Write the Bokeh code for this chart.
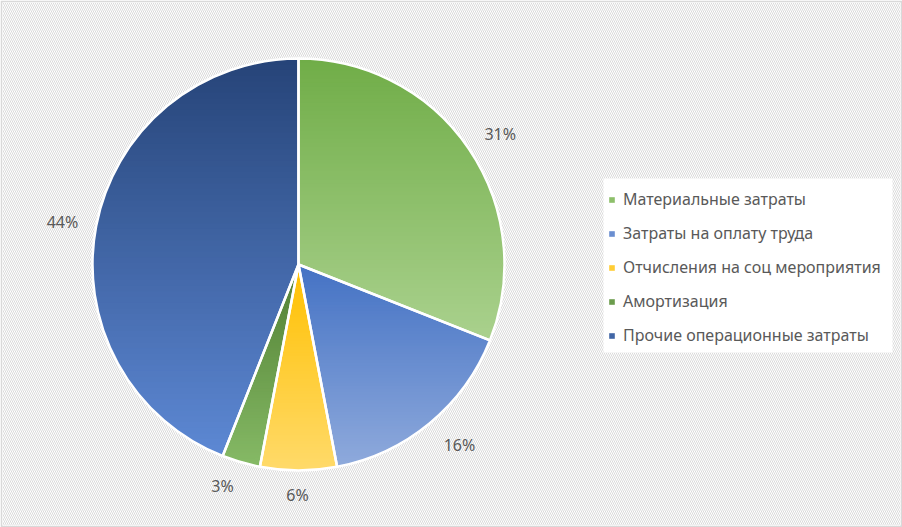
import math
from bokeh.plotting import figure
from bokeh.models import Range1d, Legend, LegendItem
from bokeh.core.properties import value
from bokeh.embed import file_html
from bokeh.resources import INLINE

# ---- data ----
categories = ["Материальные затраты", "Затраты на оплату труда",
              "Отчисления на соц мероприятия", "Амортизация",
              "Прочие операционные затраты"]
shares = [31, 16, 6, 3, 44]
labels = ["31%", "16%", "6%", "3%", "44%"]
top_colors = ["#70AD47", "#4472C4", "#FFC000", "#507E32", "#264478"]
bottom_colors = ["#AAD18E", "#8FAADC", "#FFDA6A", "#86BA66", "#5D88D4"]
mid_colors = ["#8DBF6A", "#6A8ED0", "#FFCD35", "#6B9C4C", "#4166A6"]

# ---- layout constants ----
W, H = 898, 523
CX, CY, R = 296, 261, 206
LABEL_R = [1.165, 1.175, 1.121, 1.139, 1.164]      # label distance / radius
LABEL_DA = [-1.4, 2.1, -0.25, -2.7, 0.7]          # label angle nudge (deg)
FONT = "Noto Sans"
TXT = "#595959"

p = figure(width=W + 4, height=H + 4, output_backend="svg", toolbar_location=None,
           x_range=Range1d(0, W), y_range=Range1d(0, H),
           min_border_left=2, min_border_right=2, min_border_top=2, min_border_bottom=2,
           border_fill_color="#D9D9D9", background_fill_color="white")
p.axis.visible = False
p.grid.visible = False
p.outline_line_color = None

# hatched background
p.quad(left=[0], right=[W], bottom=[0], top=[H], fill_color="white",
       hatch_pattern="left_diagonal_line", hatch_color="#DADADA",
       hatch_scale=4, hatch_weight=1, line_color=None)

# legend white box
p.quad(left=[601], right=[890], bottom=[173], top=[347], fill_color="white", line_color=None)


def hex2rgb(h):
    h = h.lstrip("#")
    return tuple(int(h[i:i + 2], 16) for i in (0, 2, 4))


def mix(c1, c2, t):
    a, b = hex2rgb(c1), hex2rgb(c2)
    return "#%02x%02x%02x" % tuple(int(round(a[i] + (b[i] - a[i]) * t)) for i in range(3))


def inter(p1, p2, y):
    t = (y - p1[1]) / (p2[1] - p1[1])
    return (p1[0] + t * (p2[0] - p1[0]), y)


def clip(poly, y, keep_above):
    out = []
    n = len(poly)
    for i in range(n):
        cur, prev = poly[i], poly[i - 1]
        cin = cur[1] >= y if keep_above else cur[1] <= y
        pin = prev[1] >= y if keep_above else prev[1] <= y
        if cin:
            if not pin:
                out.append(inter(prev, cur, y))
            out.append(cur)
        elif pin:
            out.append(inter(prev, cur, y))
    return out


total = float(sum(shares))
starts, ends = [], []
cum = 0.0
for s in shares:
    a0 = math.pi / 2 - 2 * math.pi * cum / total
    cum += s
    a1 = math.pi / 2 - 2 * math.pi * cum / total
    starts.append(a0)
    ends.append(a1)

xs, ys, fills = [], [], []
NB = 70
for i in range(len(shares)):
    a0, a1 = starts[i], ends[i]
    steps = max(4, int(abs(a0 - a1) / math.radians(0.5)))
    poly = [(CX, CY)]
    for k in range(steps + 1):
        a = a0 + (a1 - a0) * k / steps
        poly.append((CX + R * math.cos(a), CY + R * math.sin(a)))
    ymin = min(q[1] for q in poly)
    ymax = max(q[1] for q in poly)
    for b in range(NB):
        yt = ymax - (ymax - ymin) * b / NB
        yb = ymax - (ymax - ymin) * (b + 1) / NB - (0.0 if b == NB - 1 else 1.0)
        piece = clip(clip(poly, yb, True), yt, False)
        if len(piece) < 3:
            continue
        xs.append([q[0] for q in piece])
        ys.append([q[1] for q in piece])
        fills.append(mix(top_colors[i], bottom_colors[i], (b + 0.5) / NB))

p.patches(xs=xs, ys=ys, fill_color=fills, line_color=None)

# white separators / outline
p.wedge(x=[CX] * len(shares), y=[CY] * len(shares), radius=R,
        start_angle=starts, end_angle=ends, direction="clock",
        fill_alpha=0, line_color="white", line_width=2.5)

# data labels
lx, ly = [], []
for i in range(len(shares)):
    m = (starts[i] + ends[i]) / 2 + math.radians(LABEL_DA[i])
    lx.append(CX + LABEL_R[i] * R * math.cos(m))
    ly.append(CY + LABEL_R[i] * R * math.sin(m))
p.text(x=lx, y=ly, text=labels, text_align="center", text_baseline="middle",
       text_font=value(FONT), text_font_size="16px", text_color=TXT)

# legend
items = []
for i, c in enumerate(categories):
    r = p.quad(left=[-60], right=[-50], bottom=[-60], top=[-50],
               fill_color=mid_colors[i], line_color=None)
    items.append(LegendItem(label=c, renderers=[r]))
leg = Legend(items=items, location=(606, 179), padding=0, margin=0,
             glyph_width=7, glyph_height=7, label_height=22, spacing=12,
             label_standoff=8, label_text_font=FONT, label_text_font_size="16px",
             label_text_color=TXT, background_fill_alpha=0, border_line_color=None)
p.add_layout(leg)

open("out.html", "w").write(file_html(p, INLINE))
